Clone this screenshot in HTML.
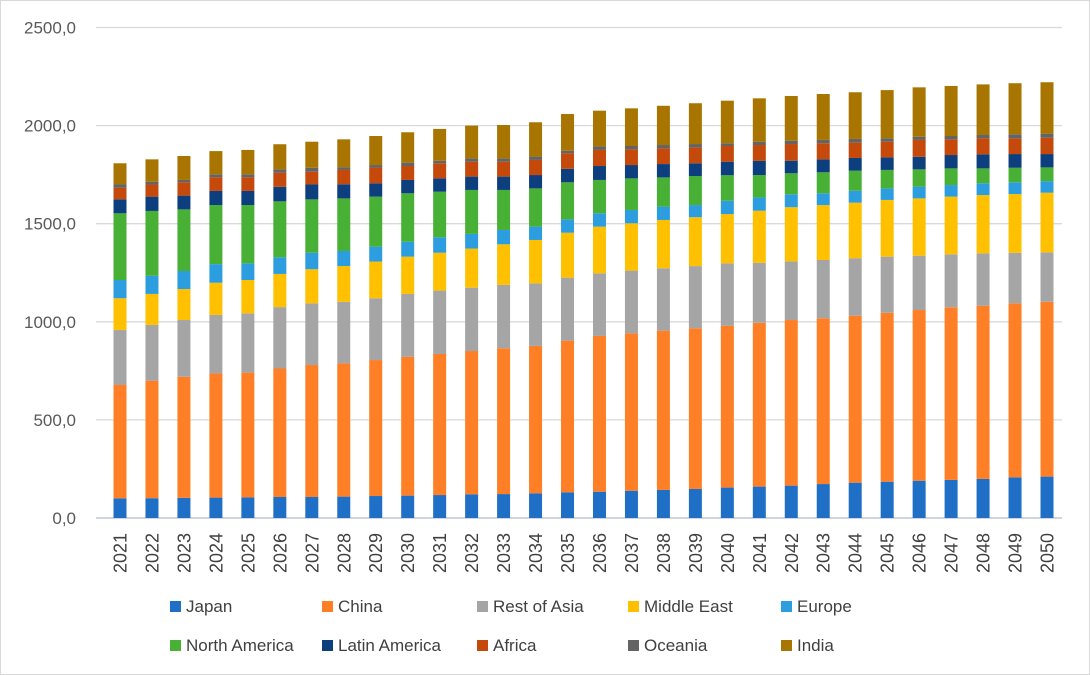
<!DOCTYPE html>
<html><head><meta charset="utf-8"><style>
html,body{margin:0;padding:0;background:#fff;}
svg{display:block;font-family:"Liberation Sans",sans-serif;}
</style></head><body>
<svg id="chart" width="1090" height="675" viewBox="0 0 1090 675">
<rect x="0.5" y="0.5" width="1089" height="674" fill="#fff" stroke="#d9d9d9"/>
<g id="grid"></g>
<g id="yaxis"></g>
<g id="bars"></g>
<g id="xaxis"></g>
<g id="legend"></g>
</svg>
<script>
const years = [2021,2022,2023,2024,2025,2026,2027,2028,2029,2030,2031,2032,2033,2034,2035,2036,2037,2038,2039,2040,2041,2042,2043,2044,2045,2046,2047,2048,2049,2050];
const seriesNames = ["Japan","China","Rest of Asia","Middle East","Europe","North America","Latin America","Africa","Oceania","India"];
const seriesColors = ["#1f6fc6","#ff7f27","#a5a5a5","#ffc000","#2c9ee0","#47b035","#0d3f7e","#c4490a","#646464","#a87600"];
const japan = [100,101,103,104,105,107,107,109,112,114,117,121,122,126,131,134,139,143,148,155,160,165,173,180,185,190,194,199,207,211];
const china = [578,599,617,633,636,655,673,679,693,708,719,730,743,751,773,794,802,812,819,825,835,844,845,851,861,870,880,883,887,891];
const restOfAsia = [280,284,289,298,302,313,314,314,315,320,323,323,323,319,321,319,320,318,317,318,306,299,297,293,286,277,270,267,258,252];
const middleEast = [162,158,158,164,170,169,174,182,187,190,193,199,207,221,229,238,241,246,249,251,265,276,280,283,289,292,294,297,299,304];
const europe = [93,93,92,95,85,85,84,77,76,76,79,75,73,68,68,68,68,68,62,68,68,66,60,61,59,60,59,60,60,59];
const northAmerica = [340,330,314,301,297,285,272,268,255,247,232,224,204,195,189,170,161,149,148,130,114,107,107,102,94,88,85,76,74,70];
const latinAmerica = [71,73,70,72,72,74,76,72,68,68,68,68,68,68,69,71,68,68,65,69,72,64,66,65,64,64,68,72,70,68];
const africa = [59,62,68,70,70,72,65,73,80,71,77,76,76,77,79,82,80,80,81,80,81,85,82,78,80,86,80,81,80,83];
const oceania = [17,14,12,15,15,17,20,13,13,17,13,17,17,17,13,17,17,17,17,14,17,17,17,19,17,16,17,17,21,21];
const india = [108,114,122,118,124,128,133,143,148,155,162,167,170,175,187,183,192,200,208,217,221,228,234,238,246,252,255,258,260,262];
const yTicks = [0,500,1000,1500,2000,2500];
const yTickLabels = ["0,0","500,0","1000,0","1500,0","2000,0","2500,0"];
const series = [japan,china,restOfAsia,middleEast,europe,northAmerica,latinAmerica,africa,oceania,india];

const NS="http://www.w3.org/2000/svg";
const y0=518, y1=27.5, yMax=2500, plotL=96, plotR=1062;
function yScale(v){return y0-(v/yMax)*(y0-y1);}
function xCenter(i){return 120+i*(1047-120)/(years.length-1);}
function mk(tag,attrs,parent){const e=document.createElementNS(NS,tag);for(const k in attrs)e.setAttribute(k,attrs[k]);parent.appendChild(e);return e;}

const grid=document.getElementById('grid'), yaxis=document.getElementById('yaxis');
yTicks.forEach((t,i)=>{
  const y=yScale(t);
  const l=mk('line',{x1:plotL,x2:plotR,y1:y,y2:y,stroke:(t===0?'#b4bccb':'#d9d9d9'),'stroke-width':1.3},grid);
  
  
  const tx=mk('text',{x:76,y:y+6,'text-anchor':'end','font-size':17,fill:'#595959'},yaxis);
  tx.textContent=yTickLabels[i];
  
  
});

const bars=document.getElementById('bars'), xaxis=document.getElementById('xaxis');
const bw=13;
years.forEach((yr,i)=>{
  let cum=0;
  const cx=xCenter(i);
  series.forEach((s,k)=>{
    const top=yScale(cum+s[i]), bot=yScale(cum);
    const r=mk('rect',{x:cx-bw/2,y:top,width:bw,height:bot-top,fill:seriesColors[k]},bars);
    
    
    cum+=s[i];
  });
  const t=mk('text',{x:0,y:0,'text-anchor':'end','font-size':18,fill:'#404040',transform:`translate(${cx+6.5},533) rotate(-90)`},xaxis);
  t.textContent=yr;
  
  
});

const legend=document.getElementById('legend');
const lx=[170,322,477,628,781], ly=[606,645];
seriesNames.forEach((n,k)=>{
  const x=lx[k%5], y=ly[Math.floor(k/5)];
  const g=mk('g',{},legend);
  
  
  mk('rect',{x:x,y:y-5,width:11,height:11,fill:seriesColors[k]},g);
  const t=mk('text',{x:x+16,y:y+6,'font-size':17,fill:'#404040'},g);
  t.textContent=n;
});
</script>
</body></html>
